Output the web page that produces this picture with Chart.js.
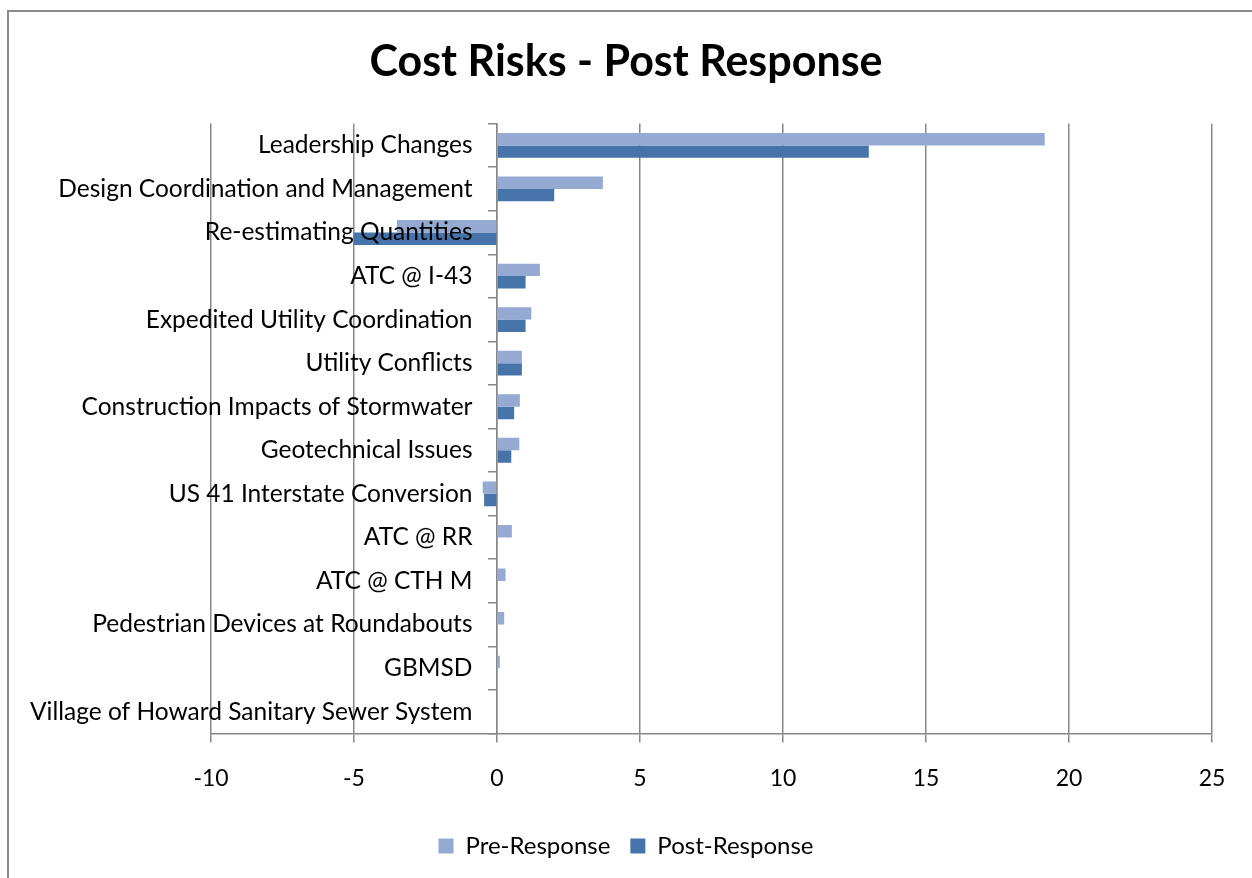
<!DOCTYPE html>
<html>
<head>
<meta charset="utf-8">
<script src="https://cdn.jsdelivr.net/npm/chart.js@4"></script>
<style>
  html, body { margin: 0; padding: 0; background: #fff; overflow: hidden; }
  #wrap { position: relative; width: 1252px; height: 878px; overflow: hidden; }
  #frame {
    position: absolute; left: 7px; top: 10px; width: 1400px; height: 1000px;
    border-left: 2px solid #8a8a8a; border-top: 2px solid #8a8a8a;
  }
  #chart { position: absolute; left: 0; top: 0; }
</style>
</head>
<body>
<div id="wrap">
  <div id="frame"></div>
  <canvas id="chart" width="1252" height="868"></canvas>
</div>
<script>
const categories = [
    "Leadership Changes",
    "Design Coordination and Management",
    "Re-estimating Quantities",
    "ATC @ I-43",
    "Expedited Utility Coordination",
    "Utility Conflicts",
    "Construction Impacts of Stormwater",
    "Geotechnical Issues",
    "US 41 Interstate Conversion",
    "ATC @ RR",
    "ATC @ CTH M",
    "Pedestrian Devices at Roundabouts",
    "GBMSD",
    "Village of Howard Sanitary Sewer System"
];
const preResponse = [19.15, 3.7, -3.5, 1.5, 1.2, 0.87, 0.8, 0.78, -0.5, 0.52, 0.3, 0.25, 0.1, 0];
const postResponse = [13.0, 2.0, -5.0, 1.0, 1.0, 0.87, 0.6, 0.5, -0.45, 0, 0, 0, 0, 0];
const xTicks = { min: -10, max: 25, step: 5 };

const gray = "#878787";
const font = "Lato";

Chart.defaults.font.family = font;
Chart.defaults.color = "#000";

// empty side axes that only reserve room, so title and legend stay centred on the canvas
const spacer = (width, position) => ({
    type: "linear",
    position,
    display: true,
    ticks: { display: false },
    grid: { display: false },
    border: { display: false },
    afterFit: (scale) => { scale.width = width; }
});

const config = {
    type: "bar",
    data: {
        labels: categories,
        datasets: [
            {
                label: "Pre-Response",
                data: preResponse,
                backgroundColor: "#94AAD2",
                borderWidth: 0,
                xAxisID: "x",
                yAxisID: "y"
            },
            {
                label: "Post-Response",
                data: postResponse,
                backgroundColor: "#4674AA",
                borderWidth: 0,
                xAxisID: "x",
                yAxisID: "y"
            }
        ]
    },
    options: {
        indexAxis: "y",
        responsive: false,
        animation: false,
        devicePixelRatio: 1,
        layout: { padding: 0 },
        datasets: {
            bar: {
                categoryPercentage: 0.57,
                barPercentage: 1.0
            }
        },
        plugins: {
            title: {
                display: true,
                text: "Cost Risks - Post Response",
                color: "#000",
                font: { size: 43, weight: "bold", family: font },
                padding: { top: 36, bottom: 36 }
            },
            legend: {
                position: "bottom",
                labels: {
                    boxWidth: 15,
                    boxHeight: 15,
                    padding: 20,
                    color: "#000",
                    font: { size: 24, family: font }
                }
            },
            tooltip: { enabled: false }
        },
        scales: {
            x: {
                type: "linear",
                min: xTicks.min,
                max: xTicks.max,
                ticks: {
                    stepSize: xTicks.step,
                    padding: 22,
                    color: "#000",
                    font: { size: 23, family: font }
                },
                grid: {
                    color: gray,
                    lineWidth: 1.5,
                    tickLength: 9
                },
                border: { display: true, color: gray, width: 1.5 }
            },
            y: {
                position: { x: 0 },
                ticks: {
                    autoSkip: false,
                    z: 1,
                    color: "#000",
                    font: { size: 24.5, family: font },
                    callback: function (value) {
                        return this.getLabelForValue(value) + "\u2002\u2002";
                    }
                },
                grid: {
                    drawOnChartArea: false,
                    drawTicks: true,
                    tickLength: 8,
                    color: gray,
                    lineWidth: 1.5
                },
                border: { display: true, color: gray, width: 1.5 }
            },
            padLeft: spacer(211, "left"),
            padRight: spacer(40, "right")
        }
    }
};

new Chart(document.getElementById("chart"), config);
</script>
</body>
</html>
